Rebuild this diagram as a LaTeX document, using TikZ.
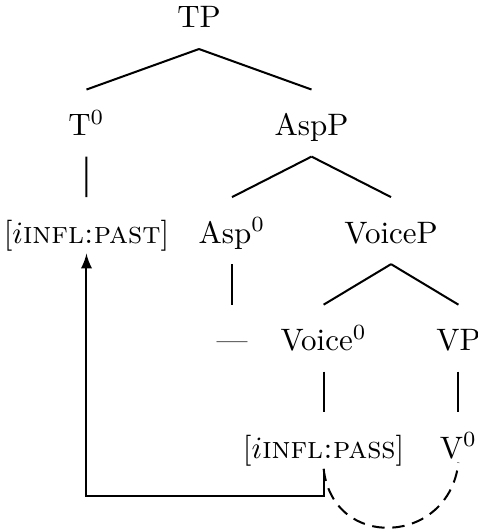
\documentclass[tikz,border=0pt]{standalone}
\tikzset{
    treenode/.style={align=center, inner sep=0pt, text height=1.6ex, text depth=0.25ex},
    % Feature movement
    edge_move/.style = {-latex},
    % Agree link
    edge_link/.style = {dash pattern=on 4pt off 2.5pt}
}

\begin{document}
\begin{tikzpicture}[every node/.style=treenode, line width=0.65pt, level distance=34.7pt,
    level 1/.style = {sibling distance=72.6pt},
    level 2/.style = {sibling distance=51.3pt},
    level 3/.style = {sibling distance=43.5pt},
    edge from parent path={([yshift=-5.4pt]\tikzparentnode.south) -- ([yshift=7.6pt]\tikzchildnode.north)}]

        \useasboundingbox (-64.2pt,6.1pt) rectangle (89.7pt,-165.2pt);

        \node (tp) {TP}
            child {node (t) {T$^0$}
                child {node (past) {[$i$\textsc{infl:past}]}}}
            child {node (asp) {AspP}
                child {node (asphead) {Asp$^0$}
                    child {node (gap) {---}}}
                child {node (voice) {VoiceP}
                    child {node (voicehead) {Voice$^0$}
                        child {node (pass) {[$i$\textsc{infl:pass}]}}}
                    child {node (vp) {VP}
                        child {node (v) {V$^0$}}}}};

        \draw[edge_move] ([yshift=-2pt]pass.south) -- ++(0,-8.7pt) -| ([yshift=-2pt]past.south);
        \draw[edge_link] ([yshift=-2pt]pass.south) .. controls +(3pt,-26.7pt) and +(-3pt,-26.7pt) .. (v.south);
    \end{tikzpicture}
\end{document}
